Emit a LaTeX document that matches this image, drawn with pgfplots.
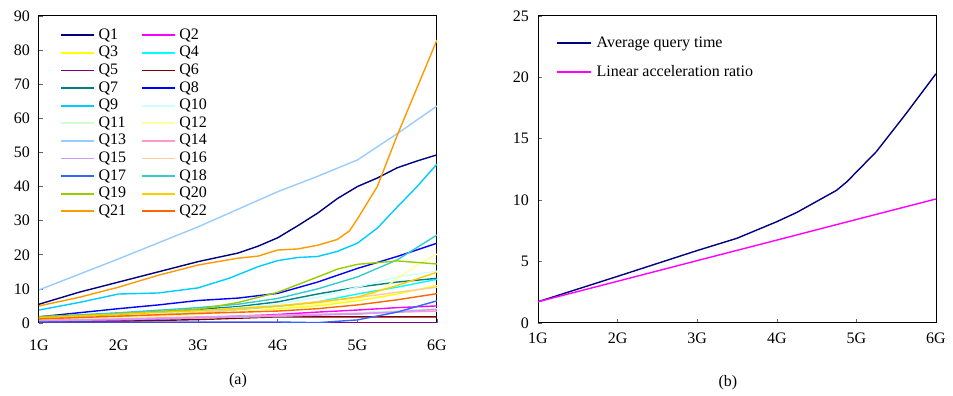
\documentclass[border=0pt]{standalone}
\usepackage{pgfplots}
\pgfplotsset{compat=1.18}
\usepackage{fontspec}
\setmainfont{Liberation Serif}
\definecolor{cQ1}{HTML}{000080}
\definecolor{cQ2}{HTML}{FF00FF}
\definecolor{cQ3}{HTML}{FFFF00}
\definecolor{cQ4}{HTML}{00FFFF}
\definecolor{cQ5}{HTML}{800080}
\definecolor{cQ6}{HTML}{800000}
\definecolor{cQ7}{HTML}{008080}
\definecolor{cQ8}{HTML}{0000FF}
\definecolor{cQ9}{HTML}{00CCFF}
\definecolor{cQ10}{HTML}{CCFFFF}
\definecolor{cQ11}{HTML}{CCFFCC}
\definecolor{cQ12}{HTML}{FFFF99}
\definecolor{cQ13}{HTML}{99CCFF}
\definecolor{cQ14}{HTML}{FF99CC}
\definecolor{cQ15}{HTML}{CC99FF}
\definecolor{cQ16}{HTML}{FFCC99}
\definecolor{cQ17}{HTML}{3366FF}
\definecolor{cQ18}{HTML}{33CCCC}
\definecolor{cQ19}{HTML}{99CC00}
\definecolor{cQ20}{HTML}{FFCC00}
\definecolor{cQ21}{HTML}{FF9900}
\definecolor{cQ22}{HTML}{FF6600}
\pgfplotsset{
  common/.style={
    scale only axis, width=398pt, height=307pt,
    anchor=south west,
    xmin=1, xmax=6, xtick={1,2,3,4,5,6},
    xticklabels={1G,2G,3G,4G,5G,6G},
    tick align=inside, xtick pos=bottom, ytick pos=left,
    major tick length=4pt,
    tick style={black!60, line width=0.6pt},
    axis line style={black, line width=1pt},
    /pgf/number format/assume math mode=true,
    yticklabel style={xshift=-5.5pt},
    every axis plot/.append style={line width=1.4pt, no markers},
    legend cell align=left,
  }
}
\begin{document}
\begin{tikzpicture}[font=\fontsize{16}{19}\selectfont]
\path[use as bounding box] (0pt,0pt) rectangle (953pt,396pt);
\begin{axis}[common, at={(39pt,73pt)},
  ymin=0, ymax=90, ytick={0,10,...,90},
  xticklabel style={yshift=-13.5pt},
  xlabel={(a)}, xlabel style={at={(axis description cs:0.5,0)}, anchor=center, yshift=-58pt},
  legend image code/.code={\draw[#1,line width=1.8pt] (0pt,0pt) -- (33pt,0pt);},
  legend columns=2,
  legend style={draw=none, fill=none, at={(0.053,0.962)}, anchor=north west, inner sep=0pt,
    row sep=2.6pt,
    nodes={inner sep=0pt, text height=11.5pt, text depth=3.5pt},
    /tikz/every odd column/.append style={column sep=3.5pt},
    /tikz/every even column/.append style={column sep=15pt}},
]
\addplot[cQ1] coordinates {(1,5.5)(1.5,9)(2,12)(2.5,15)(3,18)(3.5,20.5)(3.75,22.5)(4,25)(4.25,28.5)(4.5,32.2)(4.75,36.5)(5,40)(5.25,42.5)(5.5,45.5)(5.75,47.5)(6,49.3)};
\addplot[cQ2] coordinates {(1,0.5)(2,0.8)(3,1.5)(4,2.5)(4.5,3.2)(5,3.8)(5.5,4.5)(6,5)};
\addplot[cQ3] coordinates {(1,1.5)(2,2.3)(3,3)(4,4.2)(4.5,5)(5,6.5)(5.5,8.5)(6,11)};
\addplot[cQ4] coordinates {(1,1.2)(2,2)(3,3)(4,4.8)(4.5,6.2)(5,8.5)(5.5,10.5)(6,12.8)};
\addplot[cQ5] coordinates {(1,0.15)(2,0.15)(3,0.15)(4,0.15)(5,0.15)(6,0.15)};
\addplot[cQ6] coordinates {(1,0.2)(2,0.5)(3,1)(3.5,1.4)(4,1.8)(5,1.8)(6,1.8)};
\addplot[cQ7] coordinates {(1,1.6)(2,2.6)(3,4)(3.5,4.8)(4,6.2)(4.5,8.5)(5,10.5)(5.5,12)(6,13.1)};
\addplot[cQ8] coordinates {(1,1.8)(2,4.2)(2.5,5.3)(3,6.6)(3.5,7.3)(4,8.7)(4.5,12)(5,16)(5.5,19.5)(6,23.4)};
\addplot[cQ9] coordinates {(1,3.8)(1.5,6)(2,8.5)(2.5,8.8)(3,10.3)(3.4,13.2)(3.75,16.5)(4,18.3)(4.25,19.2)(4.5,19.5)(4.75,21)(5,23.4)(5.25,27.8)(5.5,34)(5.75,40)(6,46.6)};
\addplot[cQ10] coordinates {(1,1.2)(2,2)(3,3.5)(4,5.5)(4.5,7.5)(5,10.5)(5.5,13.5)(6,15.2)};
\addplot[cQ11] coordinates {(1,1)(2,1.2)(3,1.5)(4,2)(5,3)(6,4.2)};
\addplot[cQ12] coordinates {(1,0.8)(2,1.5)(3,2.5)(4,4.5)(4.5,5.5)(5,7)(5.25,9)(5.5,13)(5.75,17)(6,20.2)};
\addplot[cQ13] coordinates {(1,9.7)(2,18.8)(3,28.2)(4,38.5)(4.5,43)(5,47.8)(5.5,55.5)(6,63.6)};
\addplot[cQ14] coordinates {(1,0.8)(2,1.2)(3,1.8)(4,2.3)(5,2.8)(6,3.5)};
\addplot[cQ15] coordinates {(1,0.6)(2,1)(3,1.5)(4,2)(5,2.6)(6,4)};
\addplot[cQ16] coordinates {(1,1.2)(2,2)(3,3)(4,5)(5,7.5)(5.5,9)(6,10.5)};
\addplot[cQ17] coordinates {(1,0.3)(2,0.3)(3,0.3)(4,0.3)(4.5,0.1)(5,0.9)(5.5,3.2)(6,6.5)};
\addplot[cQ18] coordinates {(1,1.8)(2,3)(3,4.5)(3.5,5.5)(4,7.2)(4.5,10)(5,13.5)(5.5,18.5)(6,25.8)};
\addplot[cQ19] coordinates {(1,1.9)(2,2.6)(3,4)(3.5,6)(4,9)(4.5,13.5)(4.75,15.8)(5,17.2)(5.5,18.2)(6,17.3)};
\addplot[cQ20] coordinates {(1,1.5)(2,2.6)(3,3.6)(4,5)(4.5,6)(5,7.6)(5.5,11)(6,14.9)};
\addplot[cQ21] coordinates {(1,5)(1.5,7.5)(2,10.5)(2.5,14)(3,17)(3.5,19)(3.75,19.6)(4,21.4)(4.25,21.7)(4.5,22.8)(4.75,24.5)(4.9,27)(5,30.5)(5.25,40)(5.5,55)(5.75,69)(6,83)};
\addplot[cQ22] coordinates {(1,1.2)(2,2)(3,2.8)(4,3.5)(4.5,4.2)(5,5.3)(5.5,6.8)(6,8.6)};
\legend{Q1,Q2,Q3,Q4,Q5,Q6,Q7,Q8,Q9,Q10,Q11,Q12,Q13,Q14,Q15,Q16,Q17,Q18,Q19,Q20,Q21,Q22}
\end{axis}
\begin{axis}[common, at={(538pt,73pt)},
  ymin=0, ymax=25, ytick={0,5,...,25},
  xticklabel style={yshift=-6.7pt},
  xlabel={(b)}, xlabel style={at={(axis description cs:0.477,0)}, anchor=center, yshift=-60pt},
  legend image code/.code={\draw[#1,line width=1.6pt] (0pt,0pt) -- (34pt,0pt);},
  legend style={draw=none, fill=none, at={(0.045,0.938)}, anchor=north west, inner sep=0pt,
    row sep=13pt,
    nodes={inner sep=0pt, text height=12pt, text depth=4pt},
    /tikz/every odd column/.append style={column sep=5pt}},
]
\addplot[cQ1] coordinates {(1,1.73)(2,3.8)(3,5.9)(3.5,6.9)(4,8.25)(4.25,9.0)(4.75,10.8)(4.88,11.5)(5.25,13.95)(5.63,17.1)(6,20.3)};
\addplot[cQ2] coordinates {(1,1.73)(2,3.4)(3,5.08)(4,6.75)(5,8.43)(6,10.1)};
\legend{Average query time,Linear acceleration ratio}
\end{axis}
\end{tikzpicture}
\end{document}
